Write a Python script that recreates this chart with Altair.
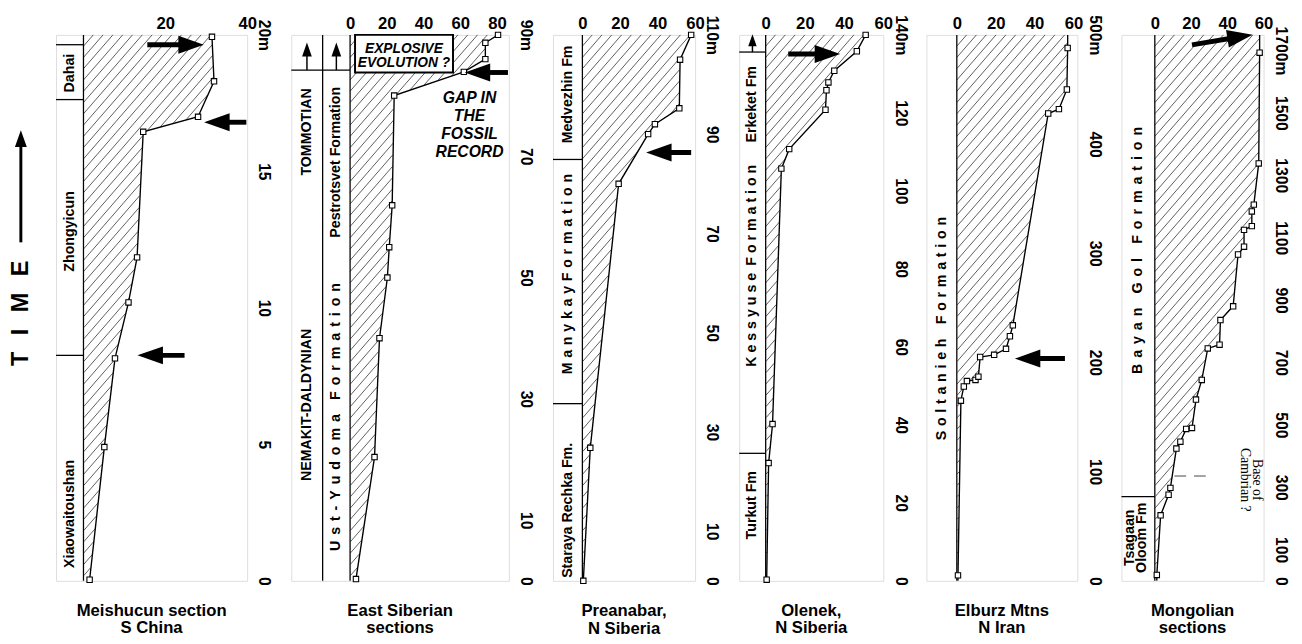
import altair as alt
import numpy as np
import pandas as pd

FONT = "Liberation Sans"
H = 557
ARROW = "M 1 0 L -1 -0.7 L -1 0.7 Z"

# ---------------- data (height in m, number of taxa) ----------------
mei_h = [0.04, 4.9, 8.15, 10.2, 11.85, 16.45, 17.0, 18.3, 19.93]
mei_n = [1.5, 5.1, 7.7, 11.0, 13.1, 14.6, 28.0, 31.9, 31.4]

esib_h = [0.3, 20.4, 40, 50, 55, 61.9, 80, 83.9, 86, 88.7, 90]
esib_n = [3.2, 13.3, 16, 20.3, 21.3, 22.9, 24, 61.9, 73.6, 73.6, 80.5]

pre_h = [0, 26.8, 80, 90, 92, 95.2, 105, 110]
pre_n = [0.5, 4.2, 19.3, 35, 38.6, 51.6, 52, 57.9]

ole_h = [0.3, 30.2, 40.2, 105.7, 110.7, 120.8, 125.8, 127.8, 130.8, 135.8, 140]
ole_n = [0.5, 1.5, 3.5, 8, 12, 30.5, 31, 32, 35, 46.5, 51]

elb_h = [5, 165, 178, 183, 184, 187, 205, 207, 212.5, 224, 234, 428, 432, 450, 488]
elb_n = [0.6, 2.1, 3.6, 5.2, 9.6, 11.1, 12, 19.2, 25.3, 27.3, 28.8, 47, 52.5, 56.6, 57]

mon_h = [18.9, 210, 276, 298, 424, 446, 487, 490, 581, 644, 745, 757, 836, 880,
         1046, 1071, 1125, 1137, 1184, 1206, 1338, 1693]
mon_n = [1.1, 3.2, 7.6, 8.6, 11.9, 14.1, 17.3, 20.5, 22.7, 25.9, 29.2, 35.7, 36.2, 43.2,
         45.9, 49.2, 49.2, 53.5, 53.5, 54.6, 57.3, 57.8]

# tick values
mei_xticks, mei_yticks = [20, 40], [0, 5, 10, 15, 20]
esib_xticks, esib_yticks = [0, 20, 40, 60, 80], [0, 10, 30, 50, 70, 90]
pre_xticks, pre_yticks = [0, 20, 40, 60], [0, 10, 30, 50, 70, 90, 110]
ole_xticks, ole_yticks = [0, 20, 40, 60], [0, 20, 40, 60, 80, 100, 120, 140]
elb_xticks, elb_yticks = [0, 20, 40, 60], [0, 100, 200, 300, 400, 500]
mon_xticks, mon_yticks = [0, 20, 40, 60], [0, 100, 300, 500, 700, 900, 1100, 1300, 1500, 1700]


def spaced(s, sep="\u2004", word="\u2003"):
    return word.join(sep.join(w) for w in s.split(" "))


# formation columns: (label, label height, column slot)
mei_fm = [("Xiaowaitoushan", 2.45, 0), ("Zhongyicun", 12.8, 0), ("Dahai", 18.6, 0)]
mei_bounds = [8.26, 17.63, 19.64]
esib_fm = [("NEMAKIT-DALDYNIAN", 29, 0), ("TOMMOTIAN", 74, 0),
           (spaced("Ust-Yudoma Formation", "\u2004\u200a"), 27, 1),
           ("Pestrotsvet Formation", 69, 1)]
esib_bounds = [84.2]
pre_fm = [("Staraya Rechka Fm.", 14.2, 0), (spaced("ManykayFormation"), 61.8, 0),
          ("Medvezhin Fm", 98, 0)]
pre_bounds = [35.7, 84.9]
ole_fm = [("Turkut Fm", 19.4, 0), (spaced("Kessyuse Formation", " ", "\u2002"), 80.8, 0),
          ("Erkeket Fm", 122.2, 0)]
ole_bounds = [32.7, 135.6]
elb_fm = [(spaced("Soltanieh Formation"), 231, 0)]
elb_bounds = []
mon_fm = [(spaced("Bayan Gol Formation", "\u2004\u200a"), 1059, 0), ("Tsagaan\nOloom Fm", 138, 2)]
mon_bounds = [270]

titles = [["Meishucun section", "S China"], ["East Siberian", "sections"],
          ["Preanabar,", "N Siberia"], ["Olenek,", "N Siberia"],
          ["Elburz Mtns", "N Iran"], ["Mongolian", "sections"]]


def hatch_segments(eh, en, Wp, sx, ytop, step=10, slope=1.15):
    """Diagonal hatch lines clipped to the region between 0 and the curve (decoration)."""
    run = H / slope
    ys = np.arange(0, H + 0.25, 0.5)
    hy = ytop * (1 - ys / H)
    fpx = np.interp(hy, eh, en) / sx
    segs = []
    x0 = -run
    while x0 <= Wp:
        xl = x0 + (H - ys) / slope
        inside = ((xl >= 0) & (xl <= fpx)).astype(int)
        idx = np.flatnonzero(np.diff(np.concatenate([[0], inside, [0]])))
        for a, b in zip(idx[::2], idx[1::2]):
            b = b - 1
            if b > a:
                segs.append((xl[a] * sx, hy[a], xl[b] * sx, hy[b]))
        x0 += step
    return pd.DataFrame(segs, columns=["x1", "y1", "x2", "y2"])


def make_panel(p):
    W, sp, xmax, ytop = p["W"], p["strip_px"], p["xmax"], p["ytop"]
    sx = xmax / (W - sp)
    xmin = -sp * sx
    xs = alt.Scale(domain=[xmin, xmax], nice=False, zero=False)
    ys = alt.Scale(domain=[0, ytop], nice=False, zero=False)
    xaxis = alt.Axis(orient="top", values=p["xvals"], title=None, grid=False, domain=False,
                     ticks=False, labelFont=FONT, labelFontSize=17, labelFontWeight="bold",
                     labelPadding=2, labelFlush=False, labelOverlap=False, labelColor="black")
    top = p["yvals"][-1]
    yaxis = alt.Axis(orient="right", values=p["yvals"], title=None, grid=False, domain=False,
                     ticks=False, labelFont=FONT, labelFontSize=16, labelFontWeight="bold",
                     labelAngle=90, labelAlign="center", labelBaseline="bottom",
                     labelPadding=9, labelFlush=False, labelOverlap=False, format="d",
                     labelColor="black",
                     labelExpr=f"datum.value == {top} ? datum.label + 'm' : datum.label")

    def X(f):
        return alt.X(f, type="quantitative", scale=xs, axis=xaxis)

    def Y(f):
        return alt.Y(f, type="quantitative", scale=ys, axis=yaxis)

    hs, ns = list(p["h"]), list(p["n"])
    ext = pd.DataFrame({"h": [0] + hs + [ytop], "n": [ns[0]] + ns + [ns[-1]]})
    pts = pd.DataFrame({"h": hs, "n": ns})

    layers = []
    hat = hatch_segments(ext["h"].values, ext["n"].values, W - sp, sx, ytop)
    layers.append(alt.Chart(hat).mark_rule(strokeWidth=0.8, color="#333").encode(
        x=X("x1"), x2="x2:Q", y=Y("y1"), y2="y2:Q"))

    # vertical dividers
    ncol = p.get("ncol", 1)
    divx = [0, p["coldiv"]] if ncol == 2 else [0]
    dv = pd.DataFrame({"x": divx, "y1": [0] * len(divx), "y2": [ytop] * len(divx)})
    layers.append(alt.Chart(dv).mark_rule(color="black", strokeWidth=1.3).encode(
        x=X("x"), y=Y("y1"), y2="y2:Q"))
    if p["bounds"]:
        bd = pd.DataFrame({"y": p["bounds"], "x1": xmin, "x2": 0})
        layers.append(alt.Chart(bd).mark_rule(color="black", strokeWidth=1.3).encode(
            x=X("x1"), x2="x2:Q", y=Y("y")))
    # formation labels
    if ncol == 2:
        centers = [(xmin + p["coldiv"]) / 2, p["coldiv"] / 2]
    else:
        centers = [xmin / 2, xmin / 2]
    centers = centers + [xmin * 0.74]  # slot 2: anchor of a two-line label
    fm = pd.DataFrame({"t": [f[0] for f in p["fm"]], "y": [f[1] for f in p["fm"]],
                       "x": [centers[f[2]] for f in p["fm"]]})
    layers.append(alt.Chart(fm).mark_text(angle=270, font=FONT, fontSize=14.5, fontWeight="bold",
                                          align="center", baseline="middle", lineBreak="\n",
                                          lineHeight=12, color="black").encode(
        x=X("x"), y=Y("y"), text="t:N"))
    # diversity curve
    layers.append(alt.Chart(ext).mark_line(color="black", strokeWidth=1.4, clip=True).encode(
        x=X("n"), y=Y("h"), order=alt.Order("h:Q")))
    layers.append(alt.Chart(pts).mark_point(shape="square", filled=True, fill="white",
                                            stroke="black", strokeWidth=1.1, size=30,
                                            opacity=1).encode(x=X("n"), y=Y("h")))
    # arrows
    if p.get("arrows"):
        ar = pd.DataFrame(p["arrows"], columns=["xt", "yt", "xh", "yh", "ang", "hs", "sw"])
        layers.append(alt.Chart(ar).mark_rule(color="black").encode(
            x=X("xt"), x2="xh:Q", y=Y("yt"), y2="yh:Q",
            strokeWidth=alt.StrokeWidth("sw:Q", scale=None)))
        layers.append(alt.Chart(ar).mark_point(shape=ARROW, filled=True, color="black",
                                               opacity=1).encode(
            x=X("xh"), y=Y("yh"), angle=alt.Angle("ang:Q", scale=None),
            size=alt.Size("hs:Q", scale=None)))
    for fn in p.get("extras", []):
        layers.append(fn(X, Y))

    return alt.layer(*layers).properties(
        width=W, height=H,
        title=alt.TitleParams(text=p["title"], orient="bottom", font=FONT, fontSize=17,
                              fontWeight="bold", anchor="middle", offset=18, lineHeight=18,
                              color="black"))


def time_label(X, Y):
    d = pd.DataFrame({"t": ["T\u2002\u2009I\u2002\u2009M\u2002\u2009E"], "x": [-15.3], "y": [9.8]})
    return alt.Chart(d).mark_text(angle=270, font=FONT, fontSize=24, fontWeight="bold",
                                  color="black").encode(x=X("x"), y=Y("y"), text="t:N")


def esib_box(X, Y):
    d = pd.DataFrame({"x1": [2.7], "x2": [56], "y1": [83.8], "y2": [90]})
    return alt.Chart(d).mark_rect(fill="white", stroke="black", strokeWidth=2,
                                  opacity=1).encode(x=X("x1"), x2="x2:Q", y=Y("y1"), y2="y2:Q")


def esib_text1(X, Y):
    d = pd.DataFrame({"t": ["EXPLOSIVE\nEVOLUTION ?"], "x": [29.3], "y": [87.6]})
    return alt.Chart(d).mark_text(font=FONT, fontWeight="bold", fontStyle="italic", fontSize=14,
                                  lineBreak="\n", lineHeight=14, baseline="middle",
                                  color="black").encode(x=X("x"), y=Y("y"), text="t:N")


def esib_text2(X, Y):
    d = pd.DataFrame({"t": ["GAP IN\nTHE\nFOSSIL\nRECORD"], "x": [65], "y": [79.5]})
    return alt.Chart(d).mark_text(font=FONT, fontWeight="bold", fontStyle="italic", fontSize=16,
                                  lineBreak="\n", lineHeight=18.3, baseline="middle",
                                  color="black").encode(x=X("x"), y=Y("y"), text="t:N")


def mon_dash(X, Y):
    d = pd.DataFrame({"x1": [10.8], "x2": [31.4], "y": [336]})
    return alt.Chart(d).mark_rule(color="#444", strokeWidth=1, strokeDash=[12, 8]).encode(
        x=X("x1"), x2="x2:Q", y=Y("y"))


def mon_text(X, Y):
    d = pd.DataFrame({"t": ["Base of\nCambrian ?"], "x": [56.5], "y": [324]})
    return alt.Chart(d).mark_text(angle=90, font="Liberation Serif", fontSize=14,
                                  lineBreak="\n", lineHeight=13, baseline="middle",
                                  color="black").encode(x=X("x"), y=Y("y"), text="t:N")


panels = [
    dict(W=195, strip_px=28, xmax=40, ytop=20, h=mei_h, n=mei_n, xvals=mei_xticks,
         yvals=mei_yticks, fm=mei_fm, bounds=mei_bounds, title=titles[0],
         arrows=[(15.6, 19.64, 26.3, 19.64, 0, 676, 5),
                 (39.8, 16.8, 32.6, 16.8, 180, 676, 5),
                 (24.7, 8.26, 16.3, 8.26, 180, 676, 5),
                 (-15.3, 12.4, -15.3, 16.2, 270, 300, 3)],
         extras=[time_label]),
    dict(W=222, strip_px=60, xmax=86.4, ytop=90, h=esib_h, n=esib_n, xvals=esib_xticks,
         yvals=esib_yticks, fm=esib_fm, bounds=esib_bounds, title=titles[1], ncol=2,
         coldiv=-14.93,
         arrows=[(85.9, 83.8, 69.3, 83.8, 180, 676, 5),
                 (-23.47, 84.2, -23.47, 87.6, 270, 200, 1.5),
                 (-7.47, 84.2, -7.47, 87.6, 270, 200, 1.5)],
         extras=[esib_box, esib_text1, esib_text2]),
    dict(W=145, strip_px=30, xmax=60, ytop=110, h=pre_h, n=pre_n, xvals=pre_xticks,
         yvals=pre_yticks, fm=pre_fm, bounds=pre_bounds, title=titles[2],
         arrows=[(57.9, 86.3, 40.7, 86.3, 180, 676, 5)]),
    dict(W=147, strip_px=27, xmax=60, ytop=140, h=ole_h, n=ole_n, xvals=ole_xticks,
         yvals=ole_yticks, fm=ole_fm, bounds=ole_bounds, title=titles[3],
         arrows=[(11.5, 135.1, 31.5, 135.1, 0, 676, 5),
                 (-6.75, 135.6, -6.75, 138.6, 270, 150, 1.5)]),
    dict(W=154, strip_px=31, xmax=62, ytop=500, h=elb_h, n=elb_n, xvals=elb_xticks,
         yvals=elb_yticks, fm=elb_fm, bounds=elb_bounds, title=titles[4],
         arrows=[(55.6, 203.6, 36.4, 203.6, 180, 676, 5)]),
    dict(W=145, strip_px=34, xmax=60, ytop=1750, h=mon_h, n=mon_n, xvals=mon_xticks,
         yvals=mon_yticks, fm=mon_fm, bounds=mon_bounds, title=titles[5],
         arrows=[(20.5, 1718, 47, 1744, 351, 676, 5)],
         extras=[mon_dash, mon_text]),
]

chart = alt.hconcat(*[make_panel(p) for p in panels], spacing=17).configure_view(
    stroke="black", strokeWidth=1.5).configure(
    background="white", padding={"left": 0, "right": 5, "top": 0, "bottom": 0})

chart.save("out.html", embed_options={"renderer": "svg", "actions": False})
